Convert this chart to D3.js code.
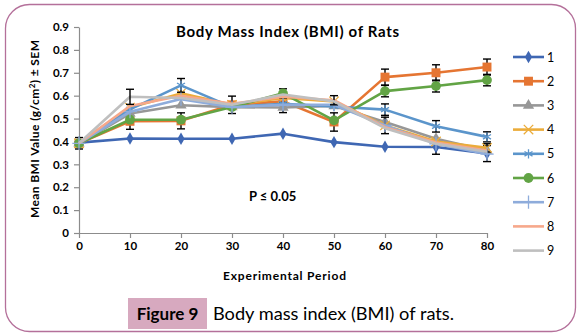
<!DOCTYPE html>
<html>
<head>
<meta charset="utf-8">
<script src="https://cdn.jsdelivr.net/npm/d3@7"></script>
<style>
  body { margin: 0; background: #fff; }
  text { font-family: Lato, "Open Sans", sans-serif; }
</style>
</head>
<body>
<div id="main"></div>
<script>
(function(){

  const days = [0, 10, 20, 30, 40, 50, 60, 70, 80]
  const groups = ['1', '2', '3', '4', '5', '6', '7', '8', '9']
  const colors = ['#3f67b3', '#e57532', '#979797', '#ebac3a', '#5b95cb', '#62a445', '#8eacdb', '#f6a88b', '#bfbfbf']
  const markers = ['diamond', 'square', 'triangle', 'x', 'star', 'circle', 'plus', 'none', 'none']

  // mean BMI per group
  const g1 = [0.395, 0.413, 0.412, 0.412, 0.434, 0.397, 0.377, 0.376, 0.347]
  const g2 = [0.392, 0.488, 0.490, 0.560, 0.575, 0.485, 0.681, 0.700, 0.725]
  const g3 = [0.392, 0.522, 0.558, 0.550, 0.548, 0.555, 0.485, 0.412, 0.360]
  const g4 = [0.392, 0.548, 0.610, 0.560, 0.590, 0.575, 0.470, 0.400, 0.372]
  const g5 = [0.392, 0.540, 0.645, 0.550, 0.565, 0.553, 0.539, 0.466, 0.420]
  const g6 = [0.392, 0.495, 0.495, 0.550, 0.610, 0.492, 0.620, 0.642, 0.668]
  const g7 = [0.392, 0.530, 0.585, 0.550, 0.560, 0.560, 0.470, 0.390, 0.345]
  const g8 = [0.392, 0.555, 0.600, 0.565, 0.595, 0.580, 0.462, 0.395, 0.360]
  const g9 = [0.392, 0.595, 0.590, 0.560, 0.605, 0.575, 0.458, 0.390, 0.355]

  // SEM per group (0 where no bar is drawn)
  const s1 = [0, 0, 0, 0, 0, 0, 0, 0.032, 0.035]
  const s2 = [0.025, 0.035, 0.035, 0, 0, 0.04, 0.035, 0.035, 0.035]
  const s3 = [0, 0, 0, 0, 0.022, 0, 0, 0, 0]
  const s4 = [0, 0, 0, 0.038, 0, 0, 0.036, 0, 0.018]
  const s5 = [0, 0, 0.03, 0, 0, 0, 0.025, 0.025, 0.022]
  const s6 = [0, 0, 0, 0, 0.02, 0, 0.025, 0.026, 0.025]
  const s7 = [0, 0, 0, 0, 0, 0, 0, 0, 0]
  const s8 = [0, 0, 0, 0, 0, 0.02, 0, 0, 0]
  const s9 = [0, 0.033, 0, 0, 0, 0, 0, 0, 0]

  const yTicks = [0, 0.1, 0.2, 0.3, 0.4, 0.5, 0.6, 0.7, 0.8, 0.9]

  const means = [g1, g2, g3, g4, g5, g6, g7, g8, g9]
  const sems = [s1, s2, s3, s4, s5, s6, s7, s8, s9]

  const width = 581
  const height = 336
  const margin = {top: 27, right: 94, bottom: 103, left: 79}

  const svg = d3.select('#main').append('svg')
    .attr('width', width)
    .attr('height', height)

  svg.append('rect')
    .attr('x', 5.5).attr('y', 4.5)
    .attr('width', 570).attr('height', 327)
    .attr('rx', 24).attr('ry', 24)
    .attr('fill', '#fff')
    .attr('stroke', '#b4709a')
    .attr('stroke-width', 1.3)

  const x = d3.scaleLinear()
    .domain([0, 80])
    .range([margin.left, width - margin.right])

  const y = d3.scaleLinear()
    .domain([0, 0.9])
    .range([height - margin.bottom, margin.top])

  const xAxis = svg.append('g')
    .attr('transform', `translate(0,${y(0)})`)
    .call(d3.axisBottom(x).tickValues(days).tickSize(5).tickSizeOuter(0).tickPadding(4))

  const yAxis = svg.append('g')
    .attr('transform', `translate(${x(0)},0)`)
    .call(d3.axisLeft(y).tickValues(yTicks).tickFormat(d3.format('')).tickSize(5).tickSizeOuter(0).tickPadding(5))

  for (const ax of [xAxis, yAxis]) {
    ax.select('.domain').attr('stroke', '#8c8c8c').attr('stroke-width', 1.2)
    ax.selectAll('.tick line').attr('stroke', '#8c8c8c').attr('stroke-width', 1.2)
    ax.selectAll('.tick text')
      .attr('fill', '#000')
      .style('font-family', 'Lato, sans-serif')
      .style('font-weight', 'bold')
      .style('font-size', '11.5px')
  }

  const line = d3.line()
    .x((d, i) => x(days[i]))
    .y(d => y(d))

  const symbolFor = {
    diamond: d3.symbol(d3.symbolDiamond, 45),
    square: d3.symbol(d3.symbolSquare, 80),
    triangle: d3.symbol(d3.symbolTriangle, 55),
    circle: d3.symbol(d3.symbolCircle, 75),
    x: d3.symbol(d3.symbolX, 60),
    star: d3.symbol(d3.symbolAsterisk, 60),
    plus: d3.symbol(d3.symbolPlus, 60)
  }
  const strokeSymbols = ['x', 'star', 'plus']

  function drawMarker(sel, kind, color) {
    if (kind === 'none') return
    const p = sel.append('path').attr('d', symbolFor[kind]())
    if (strokeSymbols.includes(kind)) {
      p.attr('fill', 'none').attr('stroke', color).attr('stroke-width', 1.3)
    } else {
      p.attr('fill', color)
    }
  }

  const plot = svg.append('g')
  means.forEach((vals, k) => {
    const g = plot.append('g')
    g.append('path')
      .datum(vals)
      .attr('fill', 'none')
      .attr('stroke', colors[k])
      .attr('stroke-width', 2.6)
      .attr('stroke-linejoin', 'round')
      .attr('d', line)

    vals.forEach((v, i) => {
      const e = sems[k][i]
      if (!e) return
      const cx = x(days[i])
      const eb = g.append('g').attr('stroke', '#000').attr('stroke-width', 1.4)
      eb.append('line').attr('x1', cx).attr('x2', cx).attr('y1', y(v - e)).attr('y2', y(v + e))
      eb.append('line').attr('x1', cx - 4).attr('x2', cx + 4).attr('y1', y(v - e)).attr('y2', y(v - e))
      eb.append('line').attr('x1', cx - 4).attr('x2', cx + 4).attr('y1', y(v + e)).attr('y2', y(v + e))
    })

    vals.forEach((v, i) => {
      const m = g.append('g').attr('transform', `translate(${x(days[i])},${y(v)})`)
      drawMarker(m, markers[k], colors[k])
    })
  })

  // legend
  const legend = svg.append('g').attr('transform', 'translate(513,57)')
  groups.forEach((name, k) => {
    const row = legend.append('g').attr('transform', `translate(0,${k * 24.2})`)
    row.append('line')
      .attr('x1', 0).attr('x2', 31)
      .attr('stroke', colors[k]).attr('stroke-width', 2.6)
    const m = row.append('g').attr('transform', 'translate(15.5,0)')
    drawMarker(m, markers[k], colors[k])
    row.append('text')
      .attr('x', 34).attr('y', 4.5)
      .style('font-size', '12.5px')
      .text(name)
  })

  svg.append('text')
    .attr('x', 176).attr('y', 37)
    .attr('textLength', 223)
    .attr('lengthAdjust', 'spacing')
    .style('font-weight', 'bold')
    .style('font-size', '15px')
    .text('Body Mass Index (BMI) of Rats')

  svg.append('text')
    .attr('x', 223).attr('y', 280)
    .attr('textLength', 123)
    .attr('lengthAdjust', 'spacing')
    .style('font-weight', 'bold')
    .style('font-size', '12px')
    .text('Experimental Period')

  svg.append('text')
    .attr('transform', 'translate(39,218) rotate(-90)')
    .attr('textLength', 178)
    .attr('lengthAdjust', 'spacing')
    .style('font-weight', 'bold')
    .style('font-size', '12px')
    .html('Mean BMI Value (g/cm<tspan dy="-4" font-size="8px">2</tspan><tspan dy="4">) ± SEM</tspan>')

  svg.append('text')
    .attr('x', 249).attr('y', 201)
    .style('font-weight', 'bold')
    .style('font-size', '13px')
    .text('P ≤ 0.05')

  // caption
  svg.append('rect')
    .attr('x', 128).attr('y', 298)
    .attr('width', 79).attr('height', 31)
    .attr('fill', '#d7a9bf')
  svg.append('text')
    .attr('x', 167.5).attr('y', 320)
    .attr('text-anchor', 'middle')
    .style('font-weight', 'bold')
    .style('font-size', '17px')
    .text('Figure 9')
  svg.append('text')
    .attr('x', 213).attr('y', 320)
    .style('font-size', '18.2px')
    .text('Body mass index (BMI) of rats.')

}())
</script>
</body>
</html>
